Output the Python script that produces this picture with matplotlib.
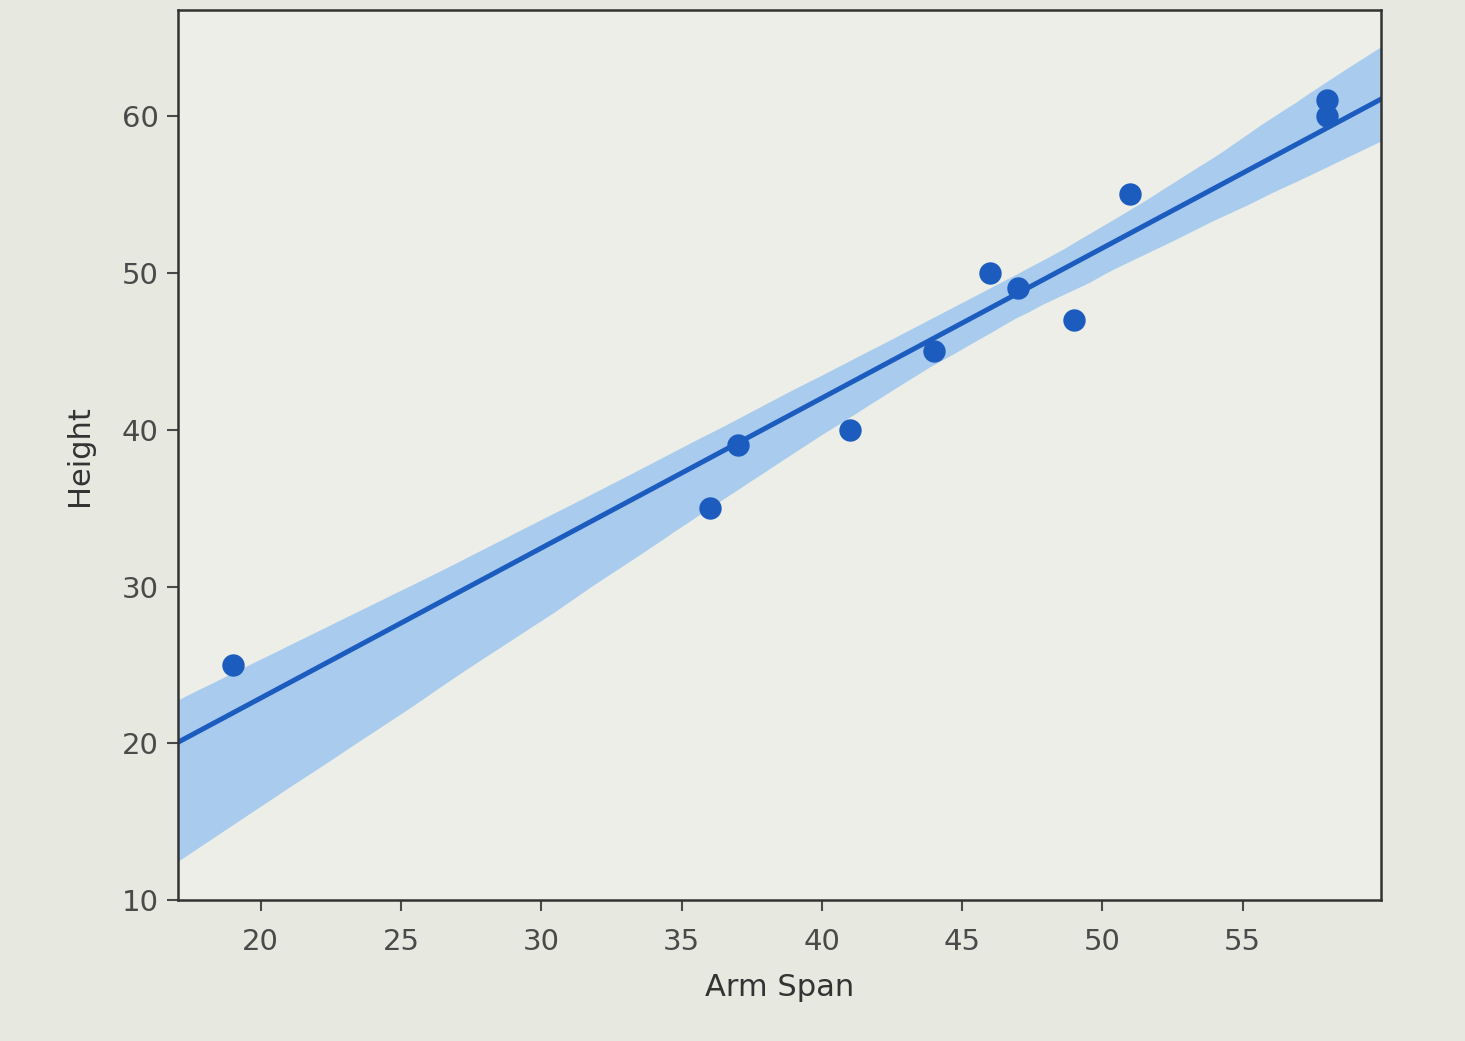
import numpy as np
import pandas as pd
import matplotlib
matplotlib.use("Agg")
import matplotlib.pyplot as plt
import seaborn as sns

arm_span = [19, 36, 37, 41, 44, 46, 47, 49, 51, 58, 58]
height = [25, 35, 39, 40, 45, 50, 49, 47, 55, 61, 60]
x_ticks = [20, 25, 30, 35, 40, 45, 50, 55]
y_ticks = [10, 20, 30, 40, 50, 60]

df = pd.DataFrame({"Arm Span": arm_span, "Height": height})

fig = plt.figure(figsize=(14.65, 10.41), dpi=100)
bg = "#e7e9e1"
fig.patch.set_facecolor(bg)
ax = fig.add_axes([0.1215, 0.135, 0.8215, 0.855])
ax.set_facecolor("#eceee7")

sns.regplot(data=df, x="Arm Span", y="Height", ax=ax, ci=95, n_boot=1000, seed=1,
            truncate=False, color="#1d5cbf",
            scatter_kws={"s": 260, "linewidths": 0, "alpha": 1, "zorder": 3},
            line_kws={"lw": 3.6, "zorder": 2})
# lighten the CI band
for coll in ax.collections[1:]:
    coll.set_facecolor("#a9cbee")
    coll.set_alpha(1)
    coll.set_zorder(1)

ax.set_ylim(10, 66.7)
ax.set_xticks(x_ticks)
ax.set_yticks(y_ticks)
ax.tick_params(axis="both", labelsize=21, colors="#4a4a4a", length=8, width=1.5)
ax.tick_params(axis="x", pad=12)
ax.tick_params(axis="y", pad=6)
ax.set_xlabel("Arm Span", fontsize=22, color="#333333", labelpad=12)
ax.set_ylabel("Height", fontsize=22, color="#333333", labelpad=20)
for sp in ax.spines.values():
    sp.set_color("#333333")
    sp.set_linewidth(1.8)

fig.savefig("out.png", dpi=100, facecolor=bg)
